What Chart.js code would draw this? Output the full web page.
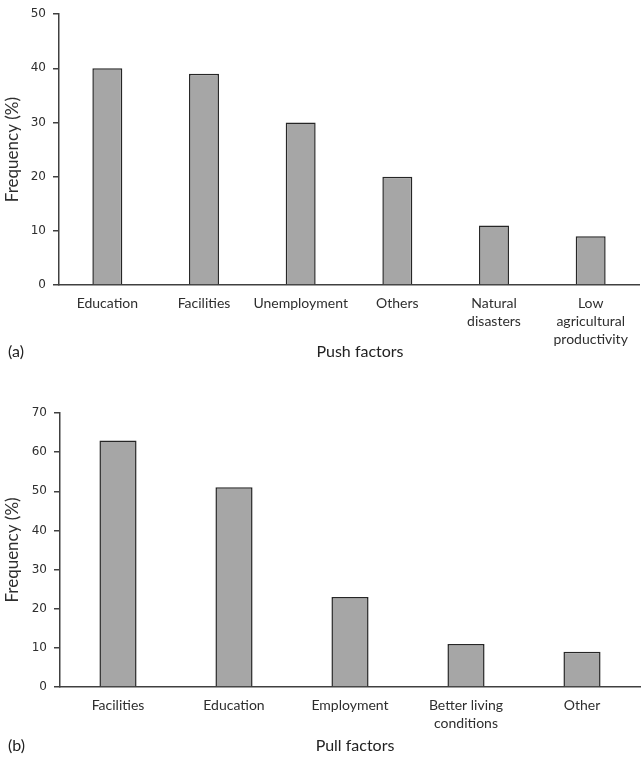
<!DOCTYPE html>
<html>
<head>
<meta charset="utf-8">
<script src="https://cdn.jsdelivr.net/npm/chart.js@4/dist/chart.umd.min.js"></script>
<style>
  body { margin: 0; background: #fff; }
  .panel { position: relative; width: 642px; }
  #boxPush { height: 370px; }
  #boxPull { height: 390px; }
</style>
</head>
<body>
<div class="panel" id="boxPush"><canvas id="chartPush"></canvas></div>
<div class="panel" id="boxPull"><canvas id="chartPull"></canvas></div>
<script>
  // (a) push factors
  const pushLabels = ['Education', 'Facilities', 'Unemployment', 'Others', ['Natural', 'disasters'], ['Low', 'agricultural', 'productivity']];
  const pushValues = [40, 39, 30, 20, 11, 9];
  const pushTicks = [0, 10, 20, 30, 40, 50];

  // (b) pull factors
  const pullLabels = ['Facilities', 'Education', 'Employment', ['Better living', 'conditions'], 'Other'];
  const pullValues = [63, 51, 23, 11, 9];
  const pullTicks = [0, 10, 20, 30, 40, 50, 60, 70];

  const corTexto = '#2e2e2e';
  const corEixo = '#404040';

  // escreve "(a)" / "(b)" e o título do eixo x
  const rotuloPainel = {
    id: 'rotuloPainel',
    afterDraw(chart, args, opts) {
      const ctx = chart.ctx;
      const area = chart.chartArea;
      ctx.save();
      ctx.font = '16px Lato';
      ctx.fillStyle = '#222';
      ctx.textBaseline = 'middle';
      ctx.textAlign = 'left';
      ctx.fillText(opts.tag, 8, opts.y);
      ctx.textAlign = 'center';
      ctx.fillText(opts.title, (area.left + area.right) / 2 + opts.shift, opts.y);
      ctx.restore();
    }
  };

  function montarGrafico(id, labels, values, ticks, cfg) {
    return new Chart(document.getElementById(id), {
      type: 'bar',
      data: {
        labels,
        datasets: [{
          data: values,
          backgroundColor: '#a6a6a6',
          borderColor: '#262626',
          borderWidth: 1.5,
          borderSkipped: 'bottom',
          barPercentage: cfg.barPct,
          categoryPercentage: 1
        }]
      },
      options: {
        responsive: true,
        maintainAspectRatio: false,
        animation: false,
        layout: { padding: { top: cfg.padTop, right: cfg.padRight, left: 0, bottom: 0 } },
        plugins: {
          legend: { display: false },
          tooltip: { enabled: false },
          rotuloPainel: { tag: cfg.tag, title: cfg.title, y: cfg.titleY, shift: cfg.shift }
        },
        scales: {
          x: {
            grid: { display: false, drawTicks: false },
            border: { display: true, color: corEixo, width: 1.5 },
            ticks: {
              color: corTexto,
              font: { family: 'Lato', size: 14, lineHeight: 1.3 },
              padding: 9,
              maxRotation: 0,
              autoSkip: false
            },
            afterFit: s => { s.height = cfg.xHeight; }
          },
          y: {
            min: 0,
            max: ticks[ticks.length - 1],
            afterBuildTicks: s => { s.ticks = ticks.map(v => ({ value: v })); },
            grid: { drawOnChartArea: false, drawTicks: true, tickLength: 6, color: corEixo, lineWidth: 1.5 },
            border: { display: true, color: corEixo, width: 1.5 },
            ticks: {
              color: corTexto,
              font: { family: 'DejaVu Sans', size: 12 },
              padding: 7
            },
            title: {
              display: true,
              text: 'Frequency (%)',
              color: corTexto,
              font: { family: 'Lato', size: 17 },
              padding: { top: 2, bottom: 0 }
            },
            afterFit: s => { s.width = cfg.yWidth; }
          }
        }
      },
      plugins: [rotuloPainel]
    });
  }

  montarGrafico('chartPush', pushLabels, pushValues, pushTicks, {
    barPct: 0.31, padTop: 0, padRight: 3, xHeight: 85, yWidth: 59,
    tag: '(a)', title: 'Push factors', titleY: 352, shift: 11
  });

  montarGrafico('chartPull', pullLabels, pullValues, pullTicks, {
    barPct: 0.32, padTop: 43, padRight: 2, xHeight: 73, yWidth: 60,
    tag: '(b)', title: 'Pull factors', titleY: 376, shift: 5
  });
</script>
</body>
</html>
